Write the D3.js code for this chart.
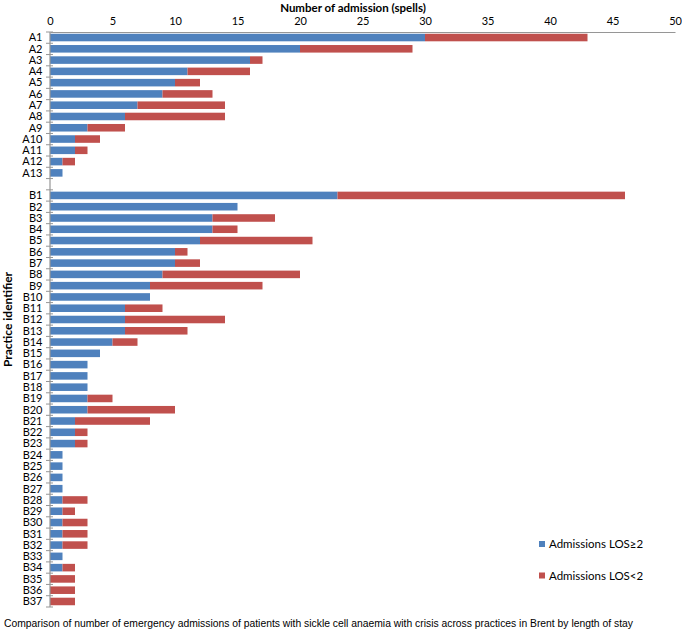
<!DOCTYPE html>
<html><head><meta charset="utf-8">
<script src="https://cdn.jsdelivr.net/npm/d3@7"></script>
<style>body{margin:0;background:#fff}svg{display:block}</style>
</head><body>
<svg id="c" width="682" height="630"></svg>
<script>
const categories = ["A1","A2","A3","A4","A5","A6","A7","A8","A9","A10","A11","A12","A13","",
 "B1","B2","B3","B4","B5","B6","B7","B8","B9","B10","B11","B12","B13","B14","B15","B16","B17","B18","B19","B20",
 "B21","B22","B23","B24","B25","B26","B27","B28","B29","B30","B31","B32","B33","B34","B35","B36","B37"];
const losGE2 = [30,20,16,11,10,9,7,6,3,2,2,1,1,0,
 23,15,13,13,12,10,10,9,8,8,6,6,6,5,4,3,3,3,3,3,
 2,2,2,1,1,1,1,1,1,1,1,1,1,1,0,0,0];
const losLT2 = [13,9,1,5,2,4,7,8,3,2,1,1,0,0,
 23,0,5,2,9,1,2,11,9,0,3,8,5,2,0,0,0,0,2,7,
 6,1,1,0,0,0,0,2,1,2,2,2,0,1,2,2,2];
const xTicks = [0,5,10,15,20,25,30,35,40,45,50];
const seriesNames = ["Admissions LOS≥2","Admissions LOS<2"];
const colors = ["#4F81BD","#C0504D"];

(function(){
const svg = d3.select("#c");
const font = "Lato, 'Open Sans', sans-serif";
const mL = 50, mR = 675, mT = 32, mB = 607;
const x = d3.scaleLinear().domain([0,50]).range([mL,mR]);
const y = d3.scaleBand().domain(d3.range(categories.length)).range([mT,mB]).paddingInner(0.33).paddingOuter(0.155);

const data = categories.map((c,i)=>({c, i, a: losGE2[i], b: losLT2[i]}));
const stack = d3.stack().keys(["a","b"])(data);

svg.append("g").selectAll("g").data(stack).join("g")
  .attr("fill",(d,k)=>colors[k])
  .selectAll("rect").data(d=>d.filter(p=>p[1]>p[0])).join("rect")
  .attr("x",p=>x(p[0])).attr("width",p=>x(p[1])-x(p[0]))
  .attr("y",p=>y(p.data.i)).attr("height",y.bandwidth());

const xa = svg.append("g").attr("transform",`translate(0,${mT})`)
  .call(d3.axisTop(x).tickValues(xTicks).tickSize(0).tickPadding(7));
xa.select(".domain").attr("stroke","#969696").attr("stroke-width",1.2);
xa.selectAll("text").attr("font-family",font).attr("font-size",11).attr("fill","#000");

svg.append("line").attr("x1",mL).attr("x2",mL).attr("y1",mT).attr("y2",mB)
  .attr("stroke","#969696").attr("stroke-width",1.2);
const bounds = d3.range(categories.length+1).map(i=> mT + (mB-mT)*i/categories.length);
svg.append("g").selectAll("line").data(bounds).join("line")
  .attr("x1",mL-4).attr("x2",mL+3).attr("y1",d=>d).attr("y2",d=>d)
  .attr("stroke","#969696").attr("stroke-width",1);

svg.append("g").selectAll("text").data(data).join("text")
  .attr("x",mL-7.5).attr("y",d=>y(d.i)+y.bandwidth()/2).attr("dy","0.35em")
  .attr("text-anchor","end").attr("font-family",font).attr("font-size",11).attr("fill","#000")
  .text(d=>d.c);

svg.append("text").attr("x",353).attr("y",11.5).attr("text-anchor","middle")
  .attr("font-family",font).attr("font-weight","bold").attr("font-size",11.5).text("Number of admission (spells)");
svg.append("text").attr("transform",`translate(11.5,${(mT+mB)/2}) rotate(-90)`).attr("text-anchor","middle")
  .attr("font-family",font).attr("font-weight","bold").attr("font-size",12).text("Practice identifier");

const lg = svg.append("g").selectAll("g").data(seriesNames).join("g")
  .attr("transform",(d,i)=>`translate(539,${544+i*31.5})`);
lg.append("rect").attr("x",0).attr("y",-3).attr("width",6).attr("height",6).attr("fill",(d,i)=>colors[i]);
lg.append("text").attr("x",10).attr("dy","0.35em").attr("font-family",font).attr("font-size",11.5).text(d=>d);

svg.append("text").attr("x",4).attr("y",627).attr("font-family","'Liberation Sans', Arial, sans-serif")
  .attr("font-size",10.35).text("Comparison of number of emergency admissions of patients with sickle cell anaemia with crisis across practices in Brent by length of stay");
})();
</script>
</body></html>
